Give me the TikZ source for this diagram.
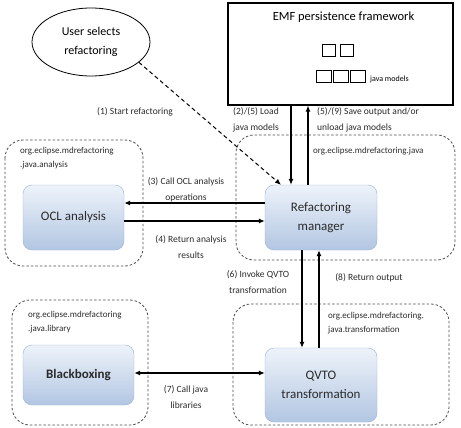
\documentclass[tikz,border=0pt]{standalone}
\usepackage{fontspec}
\setmainfont{Carlito}
\usetikzlibrary{shapes.geometric,arrows.meta,calc}
\definecolor{boxtop}{HTML}{EEF3FA}
\definecolor{boxbot}{HTML}{B2C6E2}
\definecolor{boxline}{HTML}{98B2D6}
\definecolor{txtgray}{HTML}{2B2B2B}

\begin{document}
\begin{tikzpicture}[x=1pt,y=-1pt,
  >={Latex[length=6pt,width=5pt]},
  comp/.style={draw=boxline, rounded corners=9pt, top color=boxtop, bottom color=boxbot, align=center, text=txtgray, font=\fontsize{13}{19}\selectfont},
  module/.style={draw=black!70, dash pattern=on 2.5pt off 2pt, rounded corners=18pt, line width=0.8pt},
  pkg/.style={anchor=north west, align=left, inner sep=0pt, font=\fontsize{9}{14}\selectfont, text=txtgray},
  lbl/.style={align=center, inner sep=0pt, font=\fontsize{9.5}{16}\selectfont, text=txtgray},
  flow/.style={line width=1.1pt, ->}]
\useasboundingbox (0,0) rectangle (461,428);
% package regions
\draw[module] (5,140) rectangle (143,266); % analysis
\draw[module] (236,135) rectangle (455,260); % java
\draw[module] (12,300) rectangle (148,425); % library
\draw[module] (233,304) rectangle (449,425); % transformation
\node[pkg] (pkgana) at (20,147) {org.eclipse.mdrefactoring\\.java.analysis};
\node[pkg] (pkgjava) at (313,147) {org.eclipse.mdrefactoring.java};
\node[pkg] (pkglib) at (28,311) {org.eclipse.mdrefactoring\\.java.library};
\node[pkg] (pkgtrans) at (328,312) {org.eclipse.mdrefactoring.\\java.transformation};
% EMF framework
\node[draw, line width=1.2pt, minimum width=225, minimum height=102, inner sep=0pt] (emf) at (340.5,54) {};
\node[font=\fontsize{12.5}{14}\selectfont] (emftitle) at (343.5,17) {EMF persistence framework};
\foreach \x in {322,340} \draw[line width=1pt] (\x,45) rectangle ++(13,12); % model icons
\foreach \x in {316,333,350} \draw[line width=1pt] (\x,71) rectangle ++(15,12);
\node[anchor=west, inner sep=0pt, font=\fontsize{8}{9}\selectfont] (jmodels) at (370,79) {java models};
% user
\node[ellipse, draw, line width=0.8pt, minimum width=118, minimum height=68, align=center, font=\fontsize{12}{19}\selectfont] (user) at (91,42) {User selects\\refactoring};
% components
\node[comp, minimum width=101, minimum height=65] (ocl) at (73.5,217.5) {OCL\ analysis};
\node[comp, minimum width=112, minimum height=65] (mgr) at (321,217.5) {Refactoring\\manager};
\node[comp, minimum width=111, minimum height=60, font=\fontsize{13}{19}\bfseries\selectfont] (black) at (78.5,375) {Blackboxing};
\node[comp, minimum width=112, minimum height=74] (qvto) at (321,385) {QVTO\\transformation};
% connectors
\draw[->, line width=1pt, dash pattern=on 4pt off 3pt] (user.-23) -- ([xshift=-40]mgr.north); % start
\draw[flow] ([xshift=-30]mgr.north |- emf.south) -- ([xshift=-30]mgr.north); % load
\draw[flow] ([xshift=-13]mgr.north) -- ([xshift=-13]mgr.north |- emf.south); % save
\draw[flow] ([yshift=14.5]mgr.west) -- ([yshift=14.5]mgr.west -| ocl.east); % call OCL
\draw[flow] ([yshift=-3.5]ocl.east) -- ([yshift=-3.5]ocl.east -| mgr.west); % return analysis
\draw[flow] ([xshift=-19]mgr.south) -- ([xshift=-19]mgr.south |- qvto.north); % invoke
\draw[flow] ([xshift=-2]qvto.north) -- ([xshift=-2]qvto.north |- mgr.south); % return output
\draw[flow, <->] ([yshift=2]black.east) -- ([yshift=2]black.east -| qvto.west); % call libraries
% connector labels
\node[lbl] (l1) at (135,112) {(1) Start refactoring};
\node[lbl] (l2) at (256,120) {(2)/(5) Load\\java models};
\node[lbl, align=left, anchor=west] (l5) at (317,120) {(5)/(9) Save output and/or\\unload java models};
\node[lbl] (l3) at (186,189.5) {(3) Call OCL analysis\\operations};
\node[lbl] (l4) at (191,247.5) {(4) Return analysis\\results};
\node[lbl] (l6) at (258,282.5) {(6) Invoke QVTO\\transformation};
\node[lbl] (l8) at (369,278) {(8) Return output};
\node[lbl] (l7) at (186,397.5) {(7) Call java\\libraries};
\end{tikzpicture}
\end{document}
